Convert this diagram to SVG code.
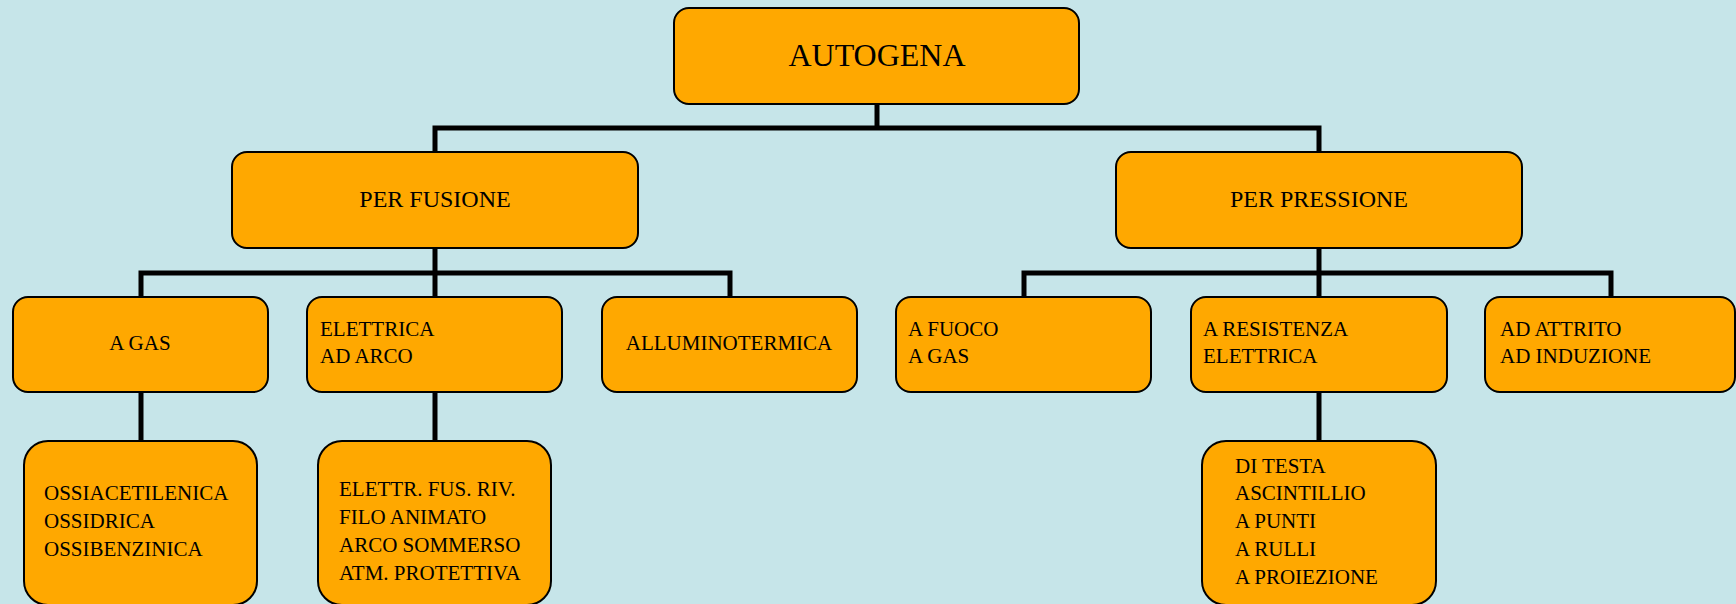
<svg xmlns="http://www.w3.org/2000/svg" width="1736" height="604" viewBox="0 0 1736 604">
<style>
.box{fill:#FFA800;stroke:#000;stroke-width:2}
.t{font-family:"Liberation Serif","Times New Roman",serif;fill:#000}
.t1{font-size:32px}
.t2{font-size:24px}
.t3{font-size:21px}
.c{text-anchor:middle}
.conn{fill:none;stroke:#000;stroke-width:5;stroke-linecap:butt;stroke-linejoin:miter}
</style>
<rect width="1736" height="604" fill="#C6E5E9"/>
<g id="connectors">
<polyline class="conn" points="877,104 877,128"/>
<polyline class="conn" points="435,152 435,128 1319,128 1319,152"/>
<polyline class="conn" points="435,248 435,273"/>
<polyline class="conn" points="141,297 141,273 730,273 730,297"/>
<polyline class="conn" points="435,273 435,297"/>
<polyline class="conn" points="1319,248 1319,273"/>
<polyline class="conn" points="1024,297 1024,273 1611,273 1611,297"/>
<polyline class="conn" points="1319,273 1319,297"/>
<polyline class="conn" points="141,392 141,441"/>
<polyline class="conn" points="435,392 435,441"/>
<polyline class="conn" points="1319,392 1319,441"/>
</g>
<g id="autogena">
<rect class="box" x="674" y="8" width="405" height="96" rx="15"/>
<text class="t t1 c" x="877" y="66">AUTOGENA</text>
</g>
<g id="per-fusione">
<rect class="box" x="232" y="152" width="406" height="96" rx="15"/>
<text class="t t2 c" x="435" y="207">PER FUSIONE</text>
</g>
<g id="per-pressione">
<rect class="box" x="1116" y="152" width="406" height="96" rx="15"/>
<text class="t t2 c" x="1319" y="207">PER PRESSIONE</text>
</g>
<g id="a-gas">
<rect class="box" x="13" y="297" width="255" height="95" rx="15"/>
<text class="t t3 c" x="140" y="350">A GAS</text>
</g>
<g id="elettrica">
<rect class="box" x="307" y="297" width="255" height="95" rx="15"/>
<text class="t t3" x="320" y="336">ELETTRICA</text>
<text class="t t3" x="320" y="363">AD ARCO</text>
</g>
<g id="alluminotermica">
<rect class="box" x="602" y="297" width="255" height="95" rx="15"/>
<text class="t t3 c" x="729" y="350">ALLUMINOTERMICA</text>
</g>
<g id="a-fuoco">
<rect class="box" x="896" y="297" width="255" height="95" rx="15"/>
<text class="t t3" x="908" y="336">A FUOCO</text>
<text class="t t3" x="908" y="363">A GAS</text>
</g>
<g id="a-resistenza">
<rect class="box" x="1191" y="297" width="256" height="95" rx="15"/>
<text class="t t3" x="1203" y="336">A RESISTENZA</text>
<text class="t t3" x="1203" y="363">ELETTRICA</text>
</g>
<g id="ad-attrito">
<rect class="box" x="1485" y="297" width="250" height="95" rx="15"/>
<text class="t t3" x="1500" y="336">AD ATTRITO</text>
<text class="t t3" x="1500" y="363">AD INDUZIONE</text>
</g>
<g id="ossiacetilenica">
<rect class="box" x="24" y="441" width="233" height="164" rx="24"/>
<text class="t t3" x="44" y="500">OSSIACETILENICA</text>
<text class="t t3" x="44" y="528">OSSIDRICA</text>
<text class="t t3" x="44" y="556">OSSIBENZINICA</text>
</g>
<g id="elettr-fus">
<rect class="box" x="318" y="441" width="233" height="164" rx="24"/>
<text class="t t3" x="339" y="496">ELETTR. FUS. RIV.</text>
<text class="t t3" x="339" y="524">FILO ANIMATO</text>
<text class="t t3" x="339" y="552">ARCO SOMMERSO</text>
<text class="t t3" x="339" y="580">ATM. PROTETTIVA</text>
</g>
<g id="di-testa">
<rect class="box" x="1202" y="441" width="234" height="164" rx="24"/>
<text class="t t3" x="1235" y="473">DI TESTA</text>
<text class="t t3" x="1235" y="500">ASCINTILLIO</text>
<text class="t t3" x="1235" y="528">A PUNTI</text>
<text class="t t3" x="1235" y="556">A RULLI</text>
<text class="t t3" x="1235" y="584">A PROIEZIONE</text>
</g>
</svg>
